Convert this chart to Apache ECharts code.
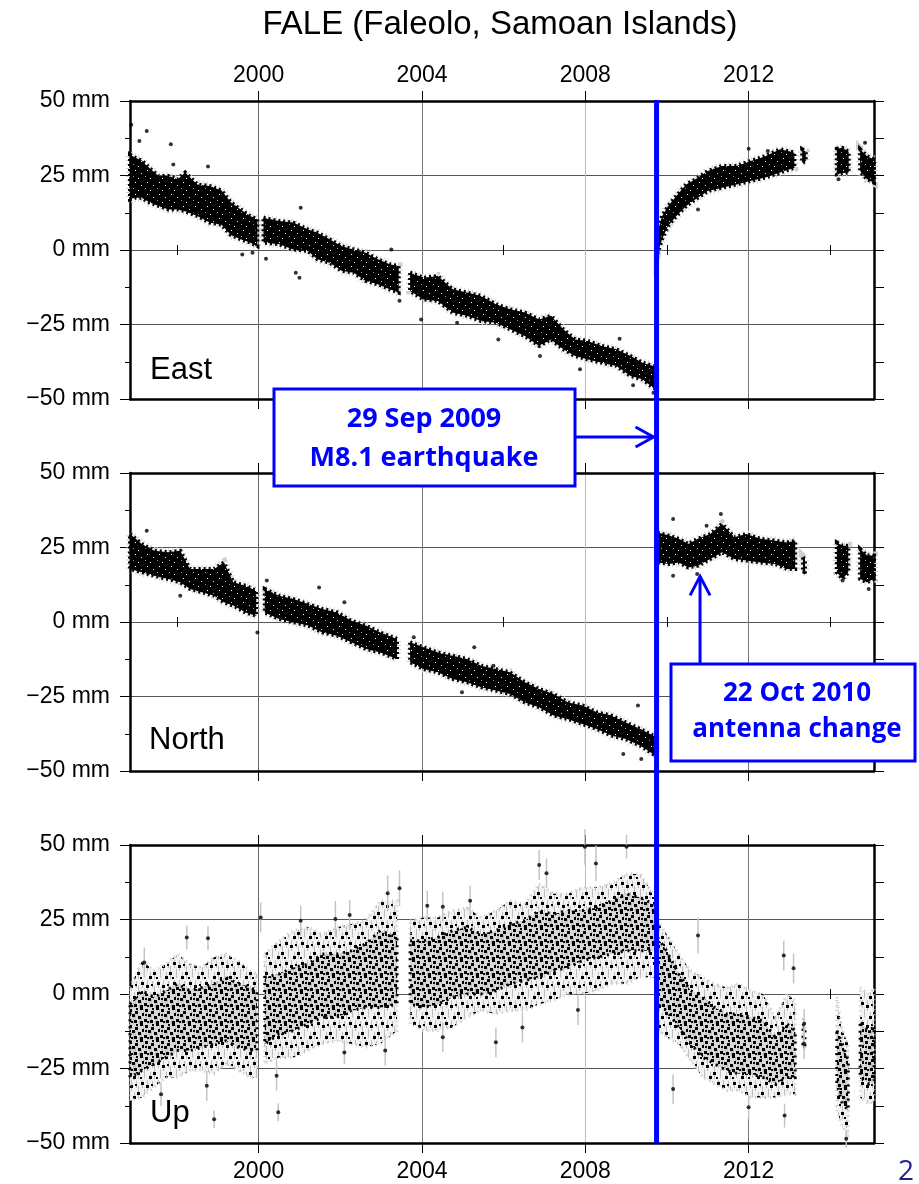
<!DOCTYPE html>
<html><head><meta charset="utf-8">
<script src="https://cdn.jsdelivr.net/npm/echarts@6/dist/echarts.min.js"></script>
<style>html,body{margin:0;padding:0;background:#fff}#c{width:919px;height:1184px}</style>
</head><body><div id="c"></div>
<script>
const titleText = 'FALE (Faleolo, Samoan Islands)';
const panelNames = ['East', 'North', 'Up'];
const xMin = 1996.85, xMax = 2015.07;
const majorYears = [2000, 2004, 2008, 2012];
const minorYears = [1998, 2002, 2006, 2010, 2014];
const quakeT = 2009.745;
const antennaT = 2010.81;
const quakeText = ['29 Sep 2009', 'M8.1 earthquake'];
const antennaText = ['22 Oct 2010', 'antenna change'];
const pageNumber = '2';

// East: envelope of the daily positions (mm), segments separated by null
const eastT = [1996.85,1996.97,1997.14,1997.32,1997.55,1997.79,1998.02,1998.2,1998.5,1998.8,1999.09,1999.32,1999.56,1999.79,1999.97,null,
2000.12,2000.5,2000.85,2001.21,2001.44,2001.74,2002.03,2002.33,2002.62,2002.92,2003.21,2003.43,null,
2003.71,2004.04,2004.39,2004.75,2005.1,2005.45,2005.81,2006.16,2006.52,2006.87,2007.16,2007.46,2007.75,2008.05,2008.4,2008.76,2009.11,2009.4,2009.66,2009.73,null,
2009.77,2009.88,2010.03,2010.23,2010.47,2010.7,2011.0,2011.35,2011.7,2012.06,2012.41,2012.77,2013.12,null,
2013.31,2013.4,null,
2014.16,2014.3,2014.45,null,
2014.73,2014.9,2015.07];
const eastHi = [32,31,30,27.6,24.8,24.8,23.7,26,22,21.5,20,16,13.6,11.4,10.3,null,
10.8,9.7,9.2,6.9,5.8,3.6,1.3,0.2,-0.9,-3.1,-4.8,-5.4,null,
-7.6,-9.3,-8.7,-13.2,-14.3,-15.4,-18.2,-19.9,-21,-23.3,-22.1,-26.6,-30,-30.5,-32.2,-33.3,-35.6,-37.8,-38.9,-39.5,null,
5.8,11.4,14.8,18.1,22,23.7,26.5,28.2,28.2,29.9,31.5,33.8,32.7,null,
33.8,33,null,
34,34.3,33,null,
33.8,31.5,30.4];
const eastLo = [17,17.5,17.5,16,14.8,13.6,13.6,13,11.4,9.2,8.5,5,3.6,2.5,1.3,null,
2.5,1.9,0.2,-0.3,-3.1,-4.3,-7,-7.6,-10.4,-11.5,-13.2,-14.3,null,
-13.8,-16.6,-17.1,-21,-22.1,-23.8,-24.4,-26.6,-28.9,-32.2,-30,-33.3,-35.6,-36.7,-37.8,-38.9,-42.3,-43.4,-46.2,-46.5,null,
-0.9,3.6,8.1,11.4,14.8,17,19.8,20.9,22,23.2,24.3,26,27.6,null,
29.3,29.8,null,
25.4,25.8,26,null,
26.5,23.7,22.6];
const eastOut = [[1996.88,42],[1997.26,39.9],[1997.08,36.6],[1997.85,35.5],[1997.91,28.7],[1998.76,28],[1999.6,-1.5],[1999.85,-0.9],[2000.18,-2.9],[2000.91,-7.6],[2001.0,-9.3],[2001.03,14.2],[2003.25,0.2],[2003.45,-17],[2003.98,-23.3],[2004.86,-24.4],[2005.87,-30],[2006.89,-35.6],[2007.87,-40],[2008.84,-29.8],[2009.17,-45.4],[2009.67,-47.9],[2010.76,13.6],[2012.0,34],[2012.47,33.2],[2014.85,36],[2014.2,23.7]];

// North
const northT = [1996.85,1997.14,1997.44,1997.79,1998.08,1998.32,1998.61,1998.91,1999.15,1999.38,1999.68,1999.94,null,
2000.15,2000.5,2000.85,2001.21,2001.56,2001.92,2002.27,2002.62,2002.98,2003.39,null,
2003.71,2004.04,2004.39,2004.75,2005.1,2005.45,2005.81,2006.16,2006.52,2006.87,2007.22,2007.58,2007.93,2008.28,2008.64,2008.99,2009.35,2009.66,2009.73,null,
2009.77,2010.05,2010.29,2010.52,2010.76,2011.06,2011.35,2011.65,2011.94,2012.29,2012.65,2012.94,2013.14,null,
2013.33,2013.38,null,
2014.16,2014.3,2014.44,null,
2014.73,2014.9,2015.07];
const northHi = [29.5,26.2,23.9,23.4,23.9,17.8,17.8,17.8,20,13.3,12.2,10.5,null,
11.1,8.8,7.7,6,4.4,3.2,0.4,-1.2,-3.5,-5.7,null,
-6.8,-8.5,-10.2,-11.3,-12.4,-14.7,-15.8,-16.9,-20.2,-22.5,-24.2,-27,-28,-30.3,-31.4,-33.7,-35.9,-38.1,-38.5,null,
30,29,27.9,26.2,27.9,29.5,32.9,28.4,29.5,27.9,27.3,26.7,27.3,null,
21.7,21,null,
26.7,25.6,25.6,null,
24.5,22.3,22.3];
const northLo = [17.8,16.7,15.5,14.4,13.3,11.1,10,8.8,6.6,5.5,3.2,2.1,null,
3.2,1,-0.1,-1.2,-3.5,-4.6,-6.8,-9,-10.2,-12.4,null,
-13.5,-15.8,-16.9,-19.1,-20.2,-21.9,-23,-24.2,-27,-28.6,-31.4,-32.6,-34.2,-35.9,-38.1,-39.3,-41.5,-44.3,-44.5,null,
20,19.5,20,18.3,18.9,21.1,23.4,21.1,20.6,20,19.5,17.8,17.8,null,
16.7,16.9,null,
16.7,14.4,16.7,null,
14.4,13.3,14.4];
const northOut = [[1997.26,30.6],[2000.2,13.9],[2001.48,11.6],[2002.1,6.6],[1999.97,-3.5],[1998.08,8.8],[2003.8,-5.1],[2005.28,-8.5],[2004.98,-23.6],[2005.75,-14.7],[2009.29,-28],[2009.37,-46],[2008.93,-44.3],[2010.15,34.6],[2010.15,15.5],[2011.32,36.2],[2010.74,16.1],[2010.97,32.3],[2013.36,16.7],[2014.3,13.9],[2014.94,11.1]];

// Up: outer envelope (with error bars) and dense core
const upT = [1996.85,1997.14,1997.44,1997.73,1998.02,1998.32,1998.61,1998.91,1999.2,1999.5,1999.79,1999.96,null,
2000.15,2000.5,2000.85,2001.21,2001.56,2001.92,2002.27,2002.62,2002.98,2003.39,null,
2003.71,2004.04,2004.39,2004.75,2005.1,2005.45,2005.81,2006.16,2006.52,2006.87,2007.22,2007.58,2007.93,2008.28,2008.64,2008.99,2009.35,2009.66,2009.73,null,
2009.77,2009.99,2010.29,2010.58,2010.88,2011.17,2011.47,2011.76,2012.06,2012.35,2012.65,2012.94,2013.14,null,
2013.33,2013.38,null,
2014.16,2014.3,2014.44,null,
2014.73,2014.95,2015.07];
const upOutHi = [2.2,11.2,7.8,10,13.4,10,9,12.3,13.4,11.2,7.8,6.7,null,
13.4,17.9,21.3,22.4,20.1,22.4,23.5,24.6,31.3,31.3,null,
24.6,25.7,25.7,28,29,25.7,28,31.3,30.2,37,33.6,33.6,35.8,35.8,37,40.3,40.3,33.6,33,null,
24.6,20.1,13.4,7.8,5.6,3.4,2.2,3.4,1.1,0,-7.8,0,-2.2,null,
-8,-9,null,
-1.1,-12.3,-16.8,null,
2.2,0,2];
const upCoreHi = [-3.4,1.1,-1.1,1.1,3.4,1.1,2.2,3.4,5.6,3.4,2.2,1.1,null,
5.6,6.7,8.9,10,13.4,13.4,14.5,16.8,21.3,19,null,
17.9,17.9,19,21.3,22.4,20.1,21.3,23.5,24.6,28,26.8,28,28,29,31.3,33.6,32.4,30.2,30,null,
19,14.5,6.7,1.1,-1.1,-4.5,-6.7,-6.7,-7.8,-9,-14.5,-10,-12.3,null,
-10,-11,null,
-12.3,-16.8,-22.4,null,
-10,-12.3,-11];
const upCoreLo = [-28,-25.7,-23.5,-21.3,-19,-19,-17.9,-16.8,-15.7,-17.9,-19,-19,null,
-16.8,-13.4,-12.3,-10,-7.8,-7.8,-5.6,-4.5,-4.5,-3.4,null,
-3.4,-4.5,-3.4,-1.1,0,0,1.1,3.4,4.5,5.6,7.8,8.9,11.2,12.3,13.4,14.5,14.5,14.5,14,null,
-3.4,-5.6,-11.2,-16.8,-21.3,-23.5,-25.7,-26.8,-26.8,-28,-30.2,-28,-28,null,
-17,-18,null,
-30,-37,-39,null,
-28,-30.2,-29];
const upOutLo = [-35.8,-34.7,-31.3,-28,-28,-25.7,-25.7,-26.8,-23.5,-25.7,-28,-28,null,
-23.5,-21.3,-21.3,-19,-16.8,-15.7,-16.8,-17.9,-16.8,-12.3,null,
-10,-12.3,-12.3,-11.2,-7.8,-5.6,-6.7,-5.6,-5.6,-3.4,-2.2,0,0,1.1,3.4,3.4,5.6,5.6,5,null,
-12.3,-14.5,-16.8,-22.4,-28,-30.2,-32.4,-32.4,-34.7,-34.7,-34.7,-33.6,-33.6,null,
-18,-19,null,
-39,-44.7,-48,null,
-34.7,-37,-36];
// [year, mm, error half-length]
const upOut = [[1998.91,-42,3],[2000.48,-39.7,3],[2000.05,25.7,5],[1998.24,19,4],[1998.76,18.7,4],[1997.2,10.6,5],[2001.03,24.6,5],[2001.88,25.2,6],[2002.23,26.5,5],[2003.16,33.8,6],[2003.45,35.5,6],[2004.13,29.6,5],[2004.51,29.3,5],[2005.18,31.3,5],[2006.87,43.3,5],[2007.05,40.5,5],[2007.99,49.4,6],[2008.26,43.8,6],[2009.01,49.4,4],[2010.76,19.6,6],[2012.86,12.9,5],[2013.1,8.6,5],[2013.36,-10,5],[2013.36,-16.8,5],[2014.39,-48.6,3],[2012.88,-40.8,4],[2012.0,-38,4],[2010.15,-31.9,5],[2007.82,-5.4,5],[2006.46,-11.2,5],[2005.81,-16.2,5],[2004.51,-14.5,5],[2003.1,-19,5],[2002.1,-19.6,4],[2000.44,-27.4,5],[1998.73,-30.8,5],[1997.61,-33.6,4]];

const FONT = '"Liberation Sans", Arial, Helvetica, sans-serif';
const BLUE = '#0000ff';
const panelTops = [101, 473, 845];
const panelH = 298;

function splitSegs(T, a, b) {
  const out = []; let cur = [];
  T.forEach((t, i) => {
    if (t === null) { if (cur.length) out.push(cur); cur = []; }
    else cur.push([t, a[i], b[i]]);
  });
  if (cur.length) out.push(cur);
  return out;
}
function makeTile(w, h, bg, rects) {
  const c = document.createElement('canvas'); c.width = w; c.height = h;
  const ctx = c.getContext('2d'); ctx.fillStyle = bg; ctx.fillRect(0, 0, w, h);
  rects.forEach(r => { ctx.fillStyle = r[4]; ctx.fillRect(r[0], r[1], r[2], r[3]); });
  return c;
}
const G = '#bdbdbd', K = '#000';
const darkTile = makeTile(12, 12, '#000', [[3,2,1,1,'#fff'],[9,5,1,1,'#ddd'],[1,8,1,1,'#999'],[6,10,1,1,'#fff']]);
const coreTile = makeTile(16, 16, '#d8d8d8', [
  [2,4,1,7,G],[9,0,1,8,G],[13,9,1,7,G],[5,8,1,8,G],[15,1,1,6,G],[11,11,1,5,G],[7,7,1,6,G],
  [1,1,3,3,K],[7,3,3,3,K],[12,0,3,2,K],[4,6,3,3,K],[10,8,3,3,K],[14,5,2,3,K],[0,11,3,3,K],[6,12,3,3,K],[12,13,3,3,K],[3,13,2,2,K],[8,0,2,2,K],[1,6,2,2,K]]);
const outerTile = makeTile(16, 20, '#f2f2f2', [
  [3,0,1,11,G],[10,6,1,13,G],[14,0,1,8,G],[6,12,1,8,G],[0,9,1,9,G],[8,1,1,7,G],
  [2,5,3,3,K],[9,12,3,3,K],[13,2,3,3,K],[5,16,3,3,K],[7,4,2,2,K],[12,17,2,2,K]]);

function polyPts(api, seg) {
  const up = seg.map(p => api.coord([p[0], p[2]]));
  const dn = seg.slice().reverse().map(p => api.coord([p[0], p[1]]));
  return up.concat(dn);
}
function bandSeries(g, segs, kind) {
  return {
    type: 'custom', xAxisIndex: g * 4, yAxisIndex: g * 2, silent: true, z: kind === 'core' ? 4 : 3,
    data: segs.map((s, i) => [s[0][0], s[0][1], i]),
    renderItem: (params, api) => {
      const pts = polyPts(api, segs[params.dataIndex]);
      if (kind === 'solid') {
        return { type: 'group', children: [
          { type: 'polygon', shape: { points: pts }, style: { fill: 'none', stroke: '#cfcfcf', lineWidth: 8, lineDash: [1, 3] } },
          { type: 'polygon', shape: { points: pts }, style: { fill: { image: darkTile, repeat: 'repeat' }, stroke: '#000', lineWidth: 4, lineDash: [2, 3] } }
        ] };
      }
      if (kind === 'outer') {
        return { type: 'polygon', shape: { points: pts }, style: { fill: { image: outerTile, repeat: 'repeat' }, stroke: '#c8c8c8', lineWidth: 3, lineDash: [1, 4] } };
      }
      return { type: 'polygon', shape: { points: pts }, style: { fill: { image: coreTile, repeat: 'repeat' }, stroke: '#000', lineWidth: 3, lineDash: [2, 5] } };
    }
  };
}

const grids = [], xAxes = [], yAxes = [], series = [];
for (let g = 0; g < 3; g++) {
  grids.push({ left: 130, right: 45, top: panelTops[g], height: panelH, containLabel: false });
  const lbl = { color: '#000', fontSize: 23, fontFamily: FONT };
  const yearFmt = v => String(Math.round(v));
  xAxes.push({ gridIndex: g, type: 'value', min: xMin, max: xMax, position: 'bottom',
    axisLine: { show: true, onZero: false, lineStyle: { color: '#000', width: 2.5 } },
    axisTick: { show: true, length: 10, customValues: majorYears, lineStyle: { color: '#000', width: 1 } },
    axisLabel: Object.assign({ show: g === 2, customValues: majorYears, margin: 17, formatter: yearFmt }, lbl),
    splitLine: { show: true, lineStyle: { color: ['#666', '#777', '#bdbdbd', '#777'], width: 1 } } });
  xAxes.push({ gridIndex: g, type: 'value', min: xMin, max: xMax, position: 'bottom',
    axisLine: { show: false }, axisTick: { show: true, length: 5, customValues: minorYears, lineStyle: { color: '#000' } },
    axisLabel: { show: false }, splitLine: { show: false } });
  xAxes.push({ gridIndex: g, type: 'value', min: xMin, max: xMax, position: 'top',
    axisLine: { show: true, onZero: false, lineStyle: { color: '#000', width: 2.5 } },
    axisTick: { show: true, length: 10, customValues: majorYears, lineStyle: { color: '#000' } },
    axisLabel: Object.assign({ show: g === 0, customValues: majorYears, margin: 14, formatter: yearFmt }, lbl),
    splitLine: { show: false } });
  xAxes.push({ gridIndex: g, type: 'value', min: xMin, max: xMax, position: 'top',
    axisLine: { show: false }, axisTick: { show: true, length: 5, customValues: minorYears, lineStyle: { color: '#000' } },
    axisLabel: { show: false }, splitLine: { show: false } });
  yAxes.push({ gridIndex: g, type: 'value', min: -50, max: 50, interval: 25, position: 'left',
    axisLine: { show: true, onZero: false, lineStyle: { color: '#000', width: 2.5 } },
    axisTick: { show: true, length: 10, lineStyle: { color: '#000' } },
    minorTick: { show: true, splitNumber: 2, length: 5, lineStyle: { color: '#000' } },
    axisLabel: Object.assign({ margin: 20, formatter: v => (v < 0 ? '\u2212' + (-v) : v) + ' mm' }, lbl),
    splitLine: { show: true, lineStyle: { color: '#555', width: 1 } }, minorSplitLine: { show: false } });
  yAxes.push({ gridIndex: g, type: 'value', min: -50, max: 50, interval: 12.5, position: 'right',
    axisLine: { show: true, onZero: false, lineStyle: { color: '#000', width: 2.5 } },
    axisTick: { show: true, length: 10, lineStyle: { color: '#000' } },
    axisLabel: { show: false }, splitLine: { show: false } });
}

series.push(bandSeries(0, splitSegs(eastT, eastLo, eastHi), 'solid'));
series.push({ type: 'scatter', xAxisIndex: 0, yAxisIndex: 0, symbolSize: 4, itemStyle: { color: '#000' }, silent: true, z: 5, data: eastOut });
series.push(bandSeries(1, splitSegs(northT, northLo, northHi), 'solid'));
series.push({ type: 'scatter', xAxisIndex: 4, yAxisIndex: 2, symbolSize: 4, itemStyle: { color: '#000' }, silent: true, z: 5, data: northOut });
series.push(bandSeries(2, splitSegs(upT, upOutLo, upOutHi), 'outer'));
series.push(bandSeries(2, splitSegs(upT, upCoreLo, upCoreHi), 'core'));
series.push({ type: 'custom', xAxisIndex: 8, yAxisIndex: 4, silent: true, z: 4, data: upOut,
  renderItem: (p, api) => {
    const a = api.coord([api.value(0), api.value(1) - api.value(2)]);
    const b = api.coord([api.value(0), api.value(1) + api.value(2)]);
    return { type: 'line', shape: { x1: a[0], y1: a[1], x2: b[0], y2: b[1] }, style: { stroke: '#c4c4c4', lineWidth: 1.5 } };
  } });
series.push({ type: 'scatter', xAxisIndex: 8, yAxisIndex: 4, symbolSize: 4, itemStyle: { color: '#000' }, silent: true, z: 5, data: upOut.map(d => [d[0], d[1]]) });

const chart = echarts.init(document.getElementById('c'), null, { renderer: 'canvas' });
chart.setOption({ animation: false, backgroundColor: '#fff', grid: grids, xAxis: xAxes, yAxis: yAxes, series: series });

const qTop = chart.convertToPixel({ xAxisIndex: 0, yAxisIndex: 0 }, [quakeT, 50]);
const qBot = chart.convertToPixel({ xAxisIndex: 8, yAxisIndex: 4 }, [quakeT, -50]);
const aTip = chart.convertToPixel({ xAxisIndex: 4, yAxisIndex: 2 }, [antennaT, 15.3]);
const qx = qTop[0];
const annFont = { fontFamily: '"Open Sans", "Noto Sans", sans-serif', fontWeight: 'bold', fontSize: 27 };
function txt(x, y, text, extra) {
  return { type: 'text', x: x, y: y, z: 110, silent: true,
    style: Object.assign({ text: text, fill: '#000', align: 'center', verticalAlign: 'middle', fontFamily: FONT, fontSize: 23 }, extra) };
}
const graphics = [
  txt(500, 25, titleText, { fontSize: 33 }),
  txt(150, 370, panelNames[0], { fontSize: 31, align: 'left' }),
  txt(149, 740, panelNames[1], { fontSize: 31, align: 'left' }),
  txt(150, 1113, panelNames[2], { fontSize: 31, align: 'left' }),
  { type: 'line', z: 100, silent: true, shape: { x1: qx, y1: qTop[1] - 1, x2: qx, y2: qBot[1] }, style: { stroke: BLUE, lineWidth: 5 } },
  // quake annotation
  { type: 'rect', z: 101, silent: true, shape: { x: 274, y: 389, width: 301, height: 97 }, style: { fill: '#fff', stroke: BLUE, lineWidth: 3 } },
  txt(424, 419, quakeText[0], Object.assign({ fill: BLUE }, annFont)),
  txt(424, 458, quakeText[1], Object.assign({ fill: BLUE }, annFont)),
  { type: 'polyline', z: 101, silent: true, shape: { points: [[575, 437], [qx - 3, 437]] }, style: { stroke: BLUE, lineWidth: 3, fill: null } },
  { type: 'polyline', z: 101, silent: true, shape: { points: [[qx - 21, 427], [qx - 3, 437], [qx - 21, 447]] }, style: { stroke: BLUE, lineWidth: 3, fill: null } },
  // antenna annotation
  { type: 'rect', z: 101, silent: true, shape: { x: 671, y: 664, width: 244, height: 97 }, style: { fill: '#fff', stroke: BLUE, lineWidth: 3 } },
  txt(797, 694, antennaText[0], Object.assign({}, annFont, { fill: BLUE, fontSize: 26 })),
  txt(797, 730, antennaText[1], Object.assign({}, annFont, { fill: BLUE, fontSize: 26 })),
  { type: 'polyline', z: 101, silent: true, shape: { points: [[aTip[0], 663], [aTip[0], aTip[1]]] }, style: { stroke: BLUE, lineWidth: 3, fill: null } },
  { type: 'polyline', z: 101, silent: true, shape: { points: [[aTip[0] - 10, aTip[1] + 19], [aTip[0], aTip[1]], [aTip[0] + 10, aTip[1] + 19]] }, style: { stroke: BLUE, lineWidth: 3, fill: null } },
  txt(906, 1172, pageNumber, { fill: '#22228f', fontSize: 28, fontFamily: '"Open Sans", sans-serif' })
];
chart.setOption({ graphic: graphics });
</script></body></html>
